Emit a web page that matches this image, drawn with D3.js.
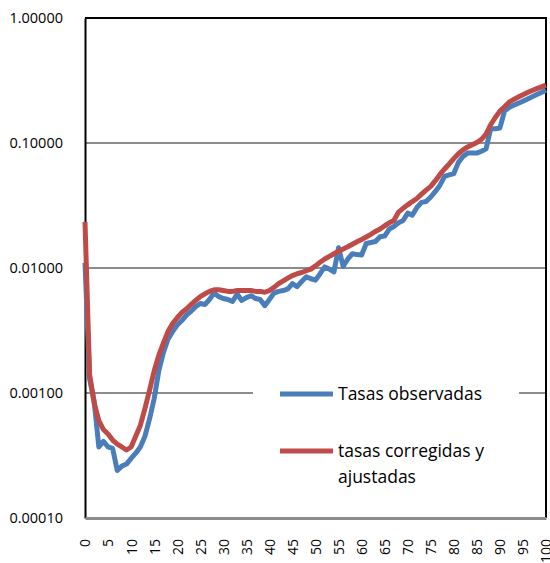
<!DOCTYPE html>
<html>
<head>
<meta charset="utf-8">
<script src="https://cdn.jsdelivr.net/npm/d3@7"></script>
<style>
  body { margin: 0; background: #fff; }
  text { font-family: "Open Sans", sans-serif; fill: #000; }
</style>
</head>
<body>
<div id="chart-area"></div>
<script>
// Data
const ages = d3.range(0, 101);
const yTicks = [1, 0.1, 0.01, 0.001, 0.0001];
const xTicks = d3.range(0, 101, 5);
const seriesNames = ["Tasas observadas", "tasas corregidas y ajustadas"];

const observed = [
  0.011, 0.0013, 0.00085, 0.00037, 0.00041, 0.00037, 0.00036, 0.00024, 0.00026, 0.00027,
  0.00030, 0.00033, 0.00037, 0.00045, 0.00062, 0.00090, 0.0015, 0.0021, 0.0027, 0.0031,
  0.0035, 0.0038, 0.0042, 0.0045, 0.0049, 0.0052, 0.0051, 0.0056, 0.0063, 0.0059,
  0.0057, 0.0056, 0.0054, 0.0062, 0.0055, 0.0058, 0.0060, 0.0057, 0.0056, 0.0050,
  0.0056, 0.0063, 0.0065, 0.0066, 0.0068, 0.0075, 0.0071, 0.0078, 0.0085, 0.0082,
  0.0080, 0.0090, 0.0102, 0.0098, 0.0093, 0.0145, 0.0103, 0.0118, 0.0130, 0.0128,
  0.0127, 0.0157, 0.0160, 0.0163, 0.0178, 0.0180, 0.0205, 0.0215, 0.0230, 0.0240,
  0.0275, 0.0265, 0.0305, 0.0335, 0.0340, 0.0370, 0.0410, 0.0460, 0.0540, 0.0555,
  0.0570, 0.0700, 0.0780, 0.0830, 0.0830, 0.0830, 0.0860, 0.0900, 0.1300, 0.1300,
  0.1320, 0.1800, 0.1920, 0.2000, 0.2080, 0.2160, 0.2250, 0.2340, 0.2440, 0.2540,
  0.2650
];

const adjusted = [
  0.0234, 0.0014, 0.00083, 0.00060, 0.00051, 0.00047, 0.00042, 0.00039, 0.00037, 0.00035,
  0.00037, 0.00045, 0.00055, 0.00075, 0.00105, 0.00150, 0.0020, 0.0025, 0.0031, 0.0036,
  0.0040, 0.0044, 0.0047, 0.0051, 0.0055, 0.0059, 0.0062, 0.0065, 0.0067, 0.0067,
  0.0066, 0.0065, 0.0065, 0.0066, 0.0066, 0.0066, 0.0066, 0.0065, 0.0065, 0.0064,
  0.0066, 0.0070, 0.0075, 0.0079, 0.0083, 0.0087, 0.0090, 0.0092, 0.0095, 0.0098,
  0.0104, 0.0111, 0.0118, 0.0124, 0.0130, 0.0136, 0.0142, 0.0148, 0.0155, 0.0162,
  0.0169, 0.0177, 0.0186, 0.0196, 0.0205, 0.0217, 0.0230, 0.0240, 0.0280, 0.0300,
  0.0320, 0.0340, 0.0360, 0.0390, 0.0420, 0.0450, 0.0500, 0.0560, 0.0620, 0.0680,
  0.0750, 0.0820, 0.0880, 0.0930, 0.0970, 0.1010, 0.1070, 0.1180, 0.1400, 0.1600,
  0.1800, 0.1950, 0.2120, 0.2230, 0.2330, 0.2430, 0.2530, 0.2630, 0.2720, 0.2810,
  0.2900
];

const lineChart = () => {
  // Constants
  let width = 550;
  let height = 563;
  let left = 85, right = 546, top = 18, bottom = 518;
  let colors = ["#4a7ebb", "#be4b48"];

  let svg = d3.select("#chart-area")
    .append("svg")
      .attr("width", width)
      .attr("height", height);

  let x = d3.scaleLinear().domain([0, 100]).range([left, right]);
  let y = d3.scaleLog().domain([0.0001, 1]).range([bottom, top]);

  // Gridlines
  svg.append("g")
    .selectAll("line")
    .data(yTicks.slice(1, 4))
    .enter().append("line")
      .attr("x1", left).attr("x2", right)
      .attr("y1", d => y(d)).attr("y2", d => y(d))
      .attr("stroke", "#8c8c8c")
      .attr("stroke-width", 2);

  // Plot frame: top and right
  svg.append("path")
    .attr("d", `M${left},${top}H${right}V${bottom}`)
    .attr("fill", "none")
    .attr("stroke", "#000")
    .attr("stroke-width", 2);

  // Y axis
  let yAxis = d3.axisLeft(y)
    .tickValues(yTicks)
    .tickSize(0)
    .tickPadding(22)
    .tickFormat(d3.format(".5f"));

  svg.append("g")
    .attr("transform", `translate(${left},0)`)
    .call(yAxis)
    .call(g => g.select(".domain").attr("stroke", "#000").attr("stroke-width", 2))
    .call(g => g.selectAll("text").attr("font-size", 14.5).attr("font-family", "Open Sans"));

  // X axis
  let xAxis = d3.axisBottom(x)
    .tickValues(xTicks)
    .tickSize(0)
    .tickFormat(d3.format("d"));

  svg.append("g")
    .attr("transform", `translate(0,${bottom})`)
    .call(xAxis)
    .call(g => g.select(".domain").attr("stroke", "#8c8c8c").attr("stroke-width", 3))
    .call(g => g.selectAll("text")
      .attr("font-size", 14)
      .attr("font-family", "Open Sans")
      .attr("text-anchor", "end")
      .attr("dy", "0.35em")
      .attr("y", 0)
      .attr("transform", "translate(0,21) rotate(-90)"));

  // Legend background
  svg.append("rect")
    .attr("x", 253).attr("y", 372)
    .attr("width", 266).attr("height", 125)
    .attr("fill", "#fff");

  // Lines
  let line = d3.line()
    .x((d, i) => x(ages[i]))
    .y(d => y(d));

  [observed, adjusted].forEach((series, i) => {
    svg.append("path")
      .datum(series)
      .attr("d", line)
      .attr("fill", "none")
      .attr("stroke", colors[i])
      .attr("stroke-width", 5)
      .attr("stroke-linejoin", "round");
  });

  // Legend
  let legendY = [394, 451];
  let legend = svg.append("g")
    .selectAll(".legend")
    .data(seriesNames)
    .enter().append("g")
      .classed("legend", true)
      .attr("transform", (d, i) => `translate(0,${legendY[i]})`);

  legend.append("line")
    .attr("x1", 280).attr("x2", 333)
    .attr("stroke", (d, i) => colors[i])
    .attr("stroke-width", 5);

  legend.append("text")
    .attr("x", 338)
    .attr("font-size", 17.5)
    .each(function (d, i) {
      let t = d3.select(this);
      let parts = i === 1 ? ["tasas corregidas y", "ajustadas"] : [d];
      parts.forEach((p, j) => {
        t.append("tspan")
          .attr("x", 338)
          .attr("y", 6 + j * 26)
          .text(p);
      });
    });
};

lineChart();
</script>
</body>
</html>
